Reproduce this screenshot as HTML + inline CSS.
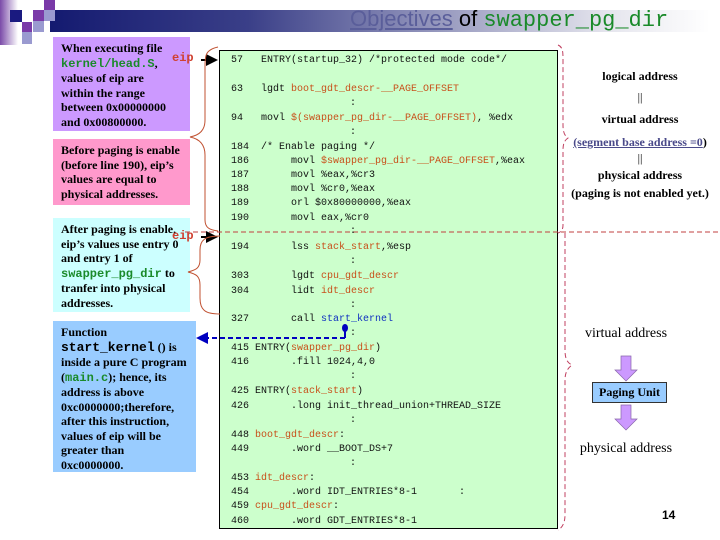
<!DOCTYPE html>
<html><head><meta charset="utf-8"><style>
body{margin:0;width:720px;height:540px;position:relative;background:#fff;overflow:hidden;font-family:"Liberation Serif",serif}
.a{position:absolute}
.c{position:absolute;font-family:"Liberation Mono",monospace;font-size:10px;white-space:pre;color:#111;line-height:12px}
.o{color:#c8501a}
.b{position:absolute;font-weight:bold;font-size:12px;line-height:14.5px;color:#000;padding:4px 0 0 8px;box-sizing:border-box}
.m{font-family:"Liberation Mono",monospace;font-weight:bold}
.g{color:#1a8a2a}
.r{position:absolute;text-align:center;font-weight:bold;font-size:12px;color:#000}
</style></head><body>
<div class="a" style="left:50px;top:10px;width:660px;height:22px;background:linear-gradient(90deg,#141a70 0%,#3a3f88 30%,#9a9cc0 60%,#e6e6ee 85%,#fff 100%)"></div>
<div class="a" style="left:0;top:0;width:18px;height:45px;background:linear-gradient(90deg,#7a4aa8,#fff)"></div>
<div class="a" style="left:10px;top:10px;width:12px;height:12px;background:#1a1a80"></div>
<div class="a" style="left:22px;top:22px;width:10px;height:10px;background:#7a3aa8"></div>
<div class="a" style="left:22px;top:32px;width:10px;height:12px;background:#9a9ad0"></div>
<div class="a" style="left:33px;top:10px;width:11px;height:11px;background:#7a3aa8"></div>
<div class="a" style="left:44px;top:0;width:11px;height:10px;background:#7a3aa8"></div>
<div class="a" style="left:44px;top:10px;width:11px;height:11px;background:#9a9ad0"></div>
<div class="a" style="left:33px;top:21px;width:11px;height:11px;background:#9a9ad0"></div>
<div class="a" style="left:350px;top:6px;font-family:'Liberation Sans',sans-serif;font-size:22px;white-space:nowrap"><span style="color:#5a5e9a;text-decoration:underline">Objectives</span> <span>of</span> <span style="font-family:'Liberation Mono',monospace;color:#1a8a2a">swapper_pg_dir</span></div>

<div class="b" style="left:53px;top:37px;width:137px;height:94px;background:#cc99ff">When executing file<br><span class="m g">kernel/head.S</span>,<br>values of eip are<br>within the range<br>between 0x00000000<br>and 0x00800000.</div>
<div class="b" style="left:53px;top:139px;width:137px;height:66px;background:#ff99cc">Before paging is enable<br>(before line 190), eip’s<br>values are equal to<br>physical addresses.</div>
<div class="b" style="left:53px;top:218px;width:137px;height:94px;background:#ccffff">After paging is enable,<br>eip’s values use entry 0<br>and entry 1 of<br><span class="m g">swapper_pg_dir</span> to<br>tranfer into physical<br>addresses.</div>
<div class="b" style="left:53px;top:321px;width:143px;height:151px;background:#99ccff">Function<br><span class="m" style="font-size:13px">start_kernel</span> () is<br>inside a pure C program<br>(<span class="m g">main.c</span>); hence, its<br>address is above<br>0xc0000000;therefore,<br>after this instruction,<br>values of eip will be<br>greater than<br>0xc0000000.</div>

<div class="a m" style="left:172px;top:51px;font-size:12px;color:#d04030">eip</div>
<div class="a m" style="left:172px;top:229px;font-size:12px;color:#d04030">eip</div>

<div class="a" style="left:219px;top:50px;width:339px;height:479px;background:#ccffcc;border:1px solid #000;box-sizing:border-box"></div>

<svg class="a" style="left:0;top:0" width="720" height="540">
<defs><marker id="ar" markerWidth="6" markerHeight="6" refX="5" refY="3" orient="auto"><path d="M0,0L6,3L0,6z" fill="#000"/></marker>
<marker id="ab" markerWidth="6" markerHeight="6" refX="5" refY="3" orient="auto"><path d="M0,0L6,3L0,6z" fill="#0000c0"/></marker></defs>
<line x1="201" y1="60" x2="216" y2="60" stroke="#000" stroke-width="2" marker-end="url(#ar)"/>
<line x1="201" y1="237" x2="216" y2="237" stroke="#000" stroke-width="2" marker-end="url(#ar)"/>
<path d="M218,47 C205,50 205,55 205,70 L205,120 C205,130 200,135 190,137 C200,139 205,145 205,155 L205,220 C205,228 210,230 218,231" fill="none" stroke="#c05030" stroke-width="1"/>
<path d="M220,236 C205,236 200,240 200,250 L200,260 C200,268 196,270 188,272 C196,274 200,276 200,285 L200,298 C200,310 205,314 220,314" fill="none" stroke="#c05030" stroke-width="1"/>
<line x1="185" y1="232" x2="720" y2="232" stroke="#c04040" stroke-dasharray="5,3" stroke-width="1"/>
<path d="M558,45 C563,47 563,52 563,60 L563,125 C563,133 565,136 568,138 C565,140 563,143 563,150 L563,225 C563,230 561,232 558,233" fill="none" stroke="#c04060" stroke-dasharray="5,3"/>
<path d="M565,233 L565,350 C565,360 568,363 572,365 C568,368 565,372 565,380 L565,515 C565,523 562,528 558,530" fill="none" stroke="#c04060" stroke-dasharray="5,3"/>
<line x1="345" y1="338" x2="198" y2="338" stroke="#0000c0" stroke-width="2" stroke-dasharray="5,3" marker-end="url(#ab)"/>
<line x1="345" y1="330" x2="345" y2="338" stroke="#0000c0" stroke-width="2"/>
<ellipse cx="345" cy="328" rx="3" ry="4" fill="#0000c0"/>
<path d="M621,356h10v14h6l-11,11l-11-11h6z" fill="#cc99ff" stroke="#8866aa" stroke-width=".7"/>
<path d="M621,405h10v14h6l-11,11l-11-11h6z" fill="#cc99ff" stroke="#8866aa" stroke-width=".7"/>
</svg>

<div class="c" style="left:231px;top:55px">57   ENTRY(startup_32) /*protected mode code*/</div>
<div class="c" style="left:231px;top:84px">63   lgdt <span class="o">boot_gdt_descr-__PAGE_OFFSET</span></div>
<div class="c" style="left:350px;top:98px">:</div>
<div class="c" style="left:231px;top:113px">94   movl <span class="o">$(swapper_pg_dir-__PAGE_OFFSET)</span>, %edx</div>
<div class="c" style="left:350px;top:127px">:</div>
<div class="c" style="left:231px;top:142px">184  /* Enable paging */</div>
<div class="c" style="left:231px;top:156px">186       movl <span class="o">$swapper_pg_dir-__PAGE_OFFSET</span>,%eax</div>
<div class="c" style="left:231px;top:170px">187       movl %eax,%cr3</div>
<div class="c" style="left:231px;top:184px">188       movl %cr0,%eax</div>
<div class="c" style="left:231px;top:198px">189       orl $0x80000000,%eax</div>
<div class="c" style="left:231px;top:213px">190       movl eax,%cr0</div>
<div class="c" style="left:350px;top:226px">:</div>
<div class="c" style="left:231px;top:242px">194       lss <span class="o">stack_start</span>,%esp</div>
<div class="c" style="left:350px;top:256px">:</div>
<div class="c" style="left:231px;top:271px">303       lgdt <span class="o">cpu_gdt_descr</span></div>
<div class="c" style="left:231px;top:286px">304       lidt <span class="o">idt_descr</span></div>
<div class="c" style="left:350px;top:300px">:</div>
<div class="c" style="left:231px;top:314px">327       call <span style="color:#1030c0">start_kernel</span></div>
<div class="c" style="left:350px;top:328px">:</div>
<div class="c" style="left:231px;top:343px">415 ENTRY(<span class="o">swapper_pg_dir</span>)</div>
<div class="c" style="left:231px;top:357px">416       .fill 1024,4,0</div>
<div class="c" style="left:350px;top:371px">:</div>
<div class="c" style="left:231px;top:386px">425 ENTRY(<span class="o">stack_start</span>)</div>
<div class="c" style="left:231px;top:401px">426       .long init_thread_union+THREAD_SIZE</div>
<div class="c" style="left:350px;top:415px">:</div>
<div class="c" style="left:231px;top:430px">448 <span class="o">boot_gdt_descr</span>:</div>
<div class="c" style="left:231px;top:444px">449       .word __BOOT_DS+7</div>
<div class="c" style="left:350px;top:458px">:</div>
<div class="c" style="left:231px;top:473px">453 <span class="o">idt_descr</span>:</div>
<div class="c" style="left:231px;top:487px">454       .word IDT_ENTRIES*8-1       :</div>
<div class="c" style="left:231px;top:501px">459 <span class="o">cpu_gdt_descr</span>:</div>
<div class="c" style="left:231px;top:516px">460       .word GDT_ENTRIES*8-1</div>

<div class="r" style="left:570px;top:69px;width:140px">logical address</div>
<div class="r" style="left:570px;top:90px;width:140px;font-weight:normal">||</div>
<div class="r" style="left:570px;top:112px;width:140px">virtual address</div>
<div class="r" style="left:565px;top:135px;width:150px;color:#4a4a8a"><u>(segment base address =0</u><span style="color:#000">)</span></div>
<div class="r" style="left:570px;top:151px;width:140px;font-weight:normal">||</div>
<div class="r" style="left:570px;top:168px;width:140px">physical address</div>
<div class="r" style="left:565px;top:186px;width:150px">(paging is not enabled yet.)</div>
<div class="r" style="left:560px;top:326px;width:132px;font-weight:normal;font-size:14px">virtual address</div>
<div class="a" style="left:592px;top:382px;width:75px;height:21px;background:#99ccff;border:1px solid #333;box-sizing:border-box;text-align:center;font-weight:bold;font-size:12px;line-height:19px">Paging Unit</div>
<div class="r" style="left:560px;top:441px;width:132px;font-weight:normal;font-size:14px">physical address</div>
<div class="a" style="left:662px;top:508px;font-family:'Liberation Sans',sans-serif;font-weight:bold;font-size:12px">14</div>
</body></html>
